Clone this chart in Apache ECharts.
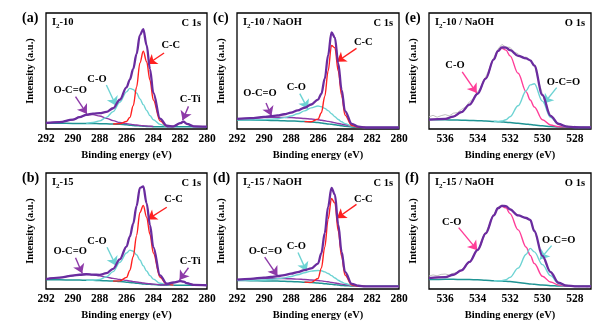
<!DOCTYPE html>
<html><head><meta charset="utf-8">
<script src="https://cdn.jsdelivr.net/npm/echarts@6/dist/echarts.min.js"></script>
<style>html,body{margin:0;padding:0;background:#fff}#c{width:604px;height:325px}</style>
</head><body><div id="c"></div>
<script>
// ---------- DATA ----------
const TICKS_C = [292, 290, 288, 286, 284, 282, 280];
const TICKS_O = [536, 534, 532, 530, 528];
const X_C = [292, 291, 290, 289.5, 289, 288.5, 288, 287.5, 287, 286.5, 286, 285.75, 285.5, 285.25, 285, 284.75, 284.5, 284.25, 284, 283.5, 283, 282.5, 282, 281.75, 281.5, 281, 280];
// (a) I2-10, C 1s
const A_BASE = [4.9, 4.9, 4.8, 4.8, 4.7, 4.7, 4.6, 4.5, 4.3, 4.0, 3.6, 3.3, 3.0, 2.8, 2.6, 2.4, 2.2, 2.1, 2.0, 2.0, 2.0, 2.0, 2.0, 2.0, 2.0, 2.0, 2.0];
const A_OCO = [5.2, 5.9, 8.0, 10.2, 12.0, 12.4, 11.2, 9.2, 7.2, 5.6, 4.6, 4.2, 3.8, 3.4, 3.1, 2.8, 2.6, 2.4, 2.2, null, null, null, null, null, null, null, null];
const A_CO = [null, null, null, null, 4.9, 5.6, 7.0, 10, 15, 23, 32, 35, 34, 31, 26, 21, 16, 11.5, 8, 4, 2.3, 2.0, null, null, null, null, null];
const A_CC = [null, null, null, null, null, null, null, null, 4.3, 4.6, 6.5, 10, 20, 36, 57, 67, 58, 42, 25, 7, 2.5, 2.0, null, null, null, null, null];
const A_CTI = [null, null, null, null, null, null, null, null, null, null, null, null, null, null, null, null, null, null, null, null, 2.0, 2.3, 5.0, 6.3, 4.5, 2.3, 2.0];
const A_ENV = [5.2, 5.9, 8.0, 10.2, 12.2, 13.3, 13.6, 14.7, 17.9, 25.2, 35.9, 42.6, 51.8, 64.8, 80.9, 86.0, 72.2, 51.7, 31.2, 9.0, 2.8, 2.3, 5.0, 6.3, 4.5, 2.3, 2.0];
// (b) I2-15, C 1s
const B_BASE = [8.0, 7.9, 7.8, 7.7, 7.6, 7.5, 7.3, 7.1, 6.8, 6.4, 5.9, 5.6, 5.3, 5.0, 4.7, 4.4, 4.2, 4.0, 3.8, 3.5, 3.3, 3.2, 3.2, 3.2, 3.2, 3.2, 3.2];
const B_OCO = [8.5, 9.8, 11.6, 12.3, 12.7, 12.3, 11.3, 10.2, 9.2, 8.3, 7.4, 6.9, 6.4, 6.0, 5.6, 5.2, 4.8, 4.5, 4.2, 3.7, null, null, null, null, null, null, null];
const B_CO = [null, null, null, null, 7.6, 7.6, 8.2, 10.5, 15, 23, 31, 33.5, 32.5, 29.5, 25, 20, 15.5, 11.5, 8.5, 5, 3.6, 3.2, null, null, null, null, null];
const B_CC = [null, null, null, null, null, null, null, null, 6.8, 7, 10, 16, 28, 46, 66, 72, 62, 47, 31, 10, 4, 3.3, null, null, null, null, null];
const B_CTI = [null, null, null, null, null, null, null, null, null, null, null, null, null, null, null, null, null, null, null, 3.5, 3.6, 5.5, 6.8, 6.4, 5.0, 3.6, 3.2];
const B_ENV = [8.5, 9.8, 11.6, 12.3, 12.7, 12.4, 12.2, 13.6, 17.4, 25.5, 36.6, 45.2, 56.3, 71.5, 87.2, 88.4, 73.9, 55.0, 36.1, 11.7, 4.6, 5.6, 6.8, 6.4, 5.0, 3.6, 3.2];
// (c) I2-10 / NaOH, C 1s
const C_BASE = [7.8, 7.7, 7.5, 7.4, 7.3, 7.1, 6.9, 6.7, 6.4, 6.0, 5.5, 5.2, 4.8, 4.4, 4.0, 3.6, 3.2, 2.8, 2.4, 1.8, 1.4, 1.3, 1.3, 1.3, 1.3, 1.3, 1.3];
const C_OCO = [8.6, 9.2, 9.8, 10.0, 10.1, 10.0, 9.8, 9.5, 9.1, 8.6, 8.0, 7.6, 7.1, 6.6, 6.0, 5.4, 4.8, 4.2, 3.6, 2.5, 1.7, 1.4, null, null, null, null, null];
const C_CO = [7.9, 7.9, 8.1, 8.5, 8.9, 9.8, 11.2, 13.2, 15.6, 18.2, 19.8, 19.2, 17.8, 15.8, 13.2, 10.6, 8.2, 6.2, 4.6, 2.6, 1.6, 1.3, null, null, null, null, null];
const C_CC = [null, null, null, null, null, null, null, null, 6.4, 6.3, 8.5, 14, 28, 50, 72, 70, 50, 29, 12, 3, 1.5, 1.3, null, null, null, null, null];
const C_ENV = [8.7, 9.4, 10.4, 11.1, 11.7, 12.7, 14.1, 16.0, 18.3, 21.1, 25.3, 30.4, 43.3, 63.6, 83.2, 78.8, 56.6, 33.8, 15.4, 4.5, 2.0, 1.3, 1.3, 1.3, 1.3, 1.3, 1.3];
// (d) I2-15 / NaOH, C 1s
const D_BASE = [7.3, 7.2, 7.0, 6.9, 6.8, 6.6, 6.4, 6.2, 5.9, 5.6, 5.2, 4.9, 4.6, 4.3, 4.0, 3.7, 3.4, 3.1, 2.9, 2.6, 2.4, 2.3, 2.3, 2.3, 2.3, 2.3, 2.3];
const D_OCO = [8.0, 8.5, 9.0, 9.1, 9.1, 9.0, 8.8, 8.5, 8.2, 7.8, 7.3, 7.0, 6.6, 6.2, 5.7, 5.2, 4.7, 4.2, 3.8, 3.0, 2.5, 2.3, null, null, null, null, null];
const D_CO = [7.4, 7.5, 7.8, 8.2, 8.8, 9.6, 10.8, 12.3, 14.0, 15.4, 16.0, 15.7, 14.8, 13.3, 11.5, 9.5, 7.6, 6.0, 4.8, 3.2, 2.6, 2.3, null, null, null, null, null];
const D_CC = [null, null, null, null, null, null, null, null, 5.9, 5.7, 9, 18, 36, 60, 78, 74, 50, 28, 12, 3.5, 2.5, 2.3, null, null, null, null, null];
const D_ENV = [8.1, 8.8, 9.8, 10.4, 11.1, 12.0, 13.2, 14.6, 16.3, 17.7, 21.9, 30.9, 48.2, 70.9, 87.2, 81.3, 55.5, 32.0, 14.8, 4.5, 2.8, 2.3, 2.3, 2.3, 2.3, 2.3, 2.3];

const X_O = [537, 536, 535.5, 535, 534.5, 534, 533.5, 533, 532.75, 532.5, 532.25, 532, 531.5, 531, 530.75, 530.5, 530, 529.5, 529, 528.5, 528, 527];
// (e) I2-10 / NaOH, O 1s
const E_BASE = [8.1, 7.9, 7.8, 7.6, 7.4, 7.2, 6.9, 6.5, 6.3, 6.1, 5.8, 5.5, 4.9, 4.2, 3.8, 3.4, 2.7, 2.1, 1.7, 1.5, 1.4, 1.4];
const E_CO = [8.1, 8.7, 10.7, 14.5, 21, 30.4, 43.5, 60, 67, 69.5, 68, 63, 48, 32, 25, 19, 8, 3.5, 2, 1.6, 1.4, 1.4];
const E_OCO = [null, null, null, null, null, null, null, 6.5, 6.5, 6.9, 8, 10.5, 20, 33, 38, 39, 24, 10, 4, 2, 1.5, 1.4];
const E_ENV = [8.1, 8.7, 10.7, 14.5, 21, 30.4, 43.5, 60, 67.2, 70.3, 70.2, 68, 63.1, 60.8, 59.2, 54.6, 29.3, 11.4, 4.3, 2.1, 1.5, 1.4];
// (f) I2-15 / NaOH, O 1s
const F_BASE = [8.2, 8.3, 8.3, 8.2, 8.1, 7.9, 7.6, 7.2, 7.0, 6.8, 6.6, 6.4, 5.6, 4.8, 4.4, 4.0, 3.4, 2.9, 2.6, 2.4, 2.3, 2.3];
const F_CO = [9.4, 10.2, 12.3, 16, 23.4, 33.6, 48, 63.5, 69.5, 71.3, 70, 65, 51, 36, 29, 22, 11, 6, 3.5, 2.6, 2.3, 2.3];
const F_OCO = [null, null, null, null, null, null, null, 7.2, 7.1, 7.2, 8, 10, 18, 30, 35, 32, 21, 11.5, 4.5, 2.7, 2.3, 2.3];
const F_ENV = [9.4, 10.2, 12.3, 16, 23.4, 33.6, 48, 63.5, 69.6, 71.7, 71.4, 68.6, 63.4, 61.2, 59.6, 50, 28.6, 14.6, 5.4, 2.9, 2.3, 2.3];
// raw O 1s spectra
const X_RAW = [537, 536.75, 536.5, 536.25, 536, 535.75, 535.5, 535.25, 535, 534.75, 534.5, 534.25, 534, 533.75, 533.5, 533.25, 533, 532.75, 532.5, 532.25, 532, 531.75, 531.5, 531.25, 531, 530.75, 530.5, 530.25, 530, 529.75, 529.5, 529.25, 529, 528.75, 528.5, 528.25, 528, 527.75, 527.5, 527.25, 527];
const E_RAW = [10.5, 11.8, 10.2, 11.5, 12.4, 11.3, 13.6, 14.1, 16.8, 18.9, 23.5, 26.3, 31.8, 37.2, 44.9, 52.3, 61.5, 68.8, 72.9, 70.6, 70.4, 66.3, 64.9, 61.2, 62.1, 58.4, 55.6, 42.1, 30.2, 18.8, 12.3, 6.4, 5.2, 2.3, 3.1, 1.2, 2.4, 1.1, 1.9, 1.2, 1.6];
const F_RAW = [11.2, 12.1, 11.4, 12.6, 12.9, 12.2, 13.5, 14.4, 16.3, 19.8, 23.1, 28.6, 33.9, 40.2, 48.4, 56.5, 63.8, 70.6, 72.4, 71.0, 69.8, 66.1, 63.9, 62.8, 60.7, 59.1, 50.6, 39.4, 29.3, 20.4, 14.9, 8.3, 6.1, 3.2, 3.6, 2.0, 2.8, 1.9, 2.6, 1.8, 2.4];

// ---------- STYLE / LAYOUT ----------
const FONT = '"Liberation Serif", "Times New Roman", serif';
const COL = {env:'#6a2c9f', cc:'#ff2020', co:'#6dd3d3', oco:'#8d3aa8', base:'#1f9494', cti:'#7a2fa3', pink:'#ff3d98', raw:'#b8b8b8'};
const GRIDS = [
  {left:46, top:13, width:161, height:116},
  {left:46, top:173, width:161, height:116},
  {left:237, top:13, width:162, height:116},
  {left:237, top:173, width:162, height:116},
  {left:429, top:13, width:162, height:116},
  {left:429, top:173, width:162, height:116}
];
const PANELS = [
  {tag:'(a)', sample:'-10', extra:'', core:'C 1s', type:'C'},
  {tag:'(b)', sample:'-15', extra:'', core:'C 1s', type:'C'},
  {tag:'(c)', sample:'-10', extra:' / NaOH', core:'C 1s', type:'C'},
  {tag:'(d)', sample:'-15', extra:' / NaOH', core:'C 1s', type:'C'},
  {tag:'(e)', sample:'-10', extra:' / NaOH', core:'O 1s', type:'O'},
  {tag:'(f)', sample:'-15', extra:' / NaOH', core:'O 1s', type:'O'}
];
// annotations: [text, textPos, arrowStart, arrowTip, color]
const ANNOT = [
  [['C-C',[282.7,72],[283.2,65.5],[284.42,56],COL.cc],['C-O',[288.2,43],[287.5,38],[286.78,20],COL.co],['O-C=O',[290.2,33.5],[289.8,28],[288.95,13],COL.oco],['C-Ti',[281.25,25.5],[281.38,19.5],[281.82,7.5],COL.oco]],
  [['C-C',[282.5,77],[283.0,70.5],[284.42,60],COL.cc],['C-O',[288.2,41.5],[287.45,36],[286.78,20],COL.co],['O-C=O',[290.2,32.5],[289.8,27],[289.3,13.5],COL.oco],['C-Ti',[281.25,24],[281.38,18.3],[282.05,7.7],COL.oco]],
  [['C-C',[282.65,74.5],[283.15,69.5],[284.6,58],COL.cc],['C-O',[287.6,36],[287.35,30.5],[286.75,17.3],COL.co],['O-C=O',[290.3,31],[289.85,22.5],[289.45,11.5],COL.oco]],
  [['C-C',[282.65,77.5],[283.15,73],[284.6,61],COL.cc],['C-O',[287.6,36.5],[287.48,31.5],[286.85,15.2],COL.co],['O-C=O',[289.9,32.5],[289.95,27.5],[289.0,11.3],COL.oco]],
  [['C-O',[535.4,55],[534.95,49.3],[534.05,31],COL.pink],['O-C=O',[528.7,40.6],[529.12,35.7],[529.9,22],COL.co]],
  [['C-O',[535.6,57.3],[535.17,52.9],[534.02,33.5],COL.pink],['O-C=O',[529.0,42.4],[529.43,37.4],[530.15,25.5],COL.co]]
];

const zip = (xs, ys) => xs.map((x, i) => [x, ys[i]]).filter(p => p[1] != null);
const line = (g, xs, ys, color, width, z, smooth) => ({
  type:'line', xAxisIndex:g, yAxisIndex:g, data:zip(xs, ys), showSymbol:false, symbol:'none',
  smooth: smooth === false ? false : 0.35, smoothMonotone: smooth === false ? undefined : 'x',
  lineStyle:{color, width}, z, silent:true, animation:false
});

const DATA = [
  {x:X_C, base:A_BASE, comps:[[A_OCO,COL.oco],[A_CO,COL.co],[A_CC,COL.cc],[A_CTI,COL.cti]], env:A_ENV},
  {x:X_C, base:B_BASE, comps:[[B_OCO,COL.oco],[B_CO,COL.co],[B_CC,COL.cc],[B_CTI,COL.cti]], env:B_ENV},
  {x:X_C, base:C_BASE, comps:[[C_OCO,COL.oco],[C_CO,COL.co],[C_CC,COL.cc]], env:C_ENV},
  {x:X_C, base:D_BASE, comps:[[D_OCO,COL.oco],[D_CO,COL.co],[D_CC,COL.cc]], env:D_ENV},
  {x:X_O, base:E_BASE, comps:[[E_CO,COL.pink],[E_OCO,COL.co]], env:E_ENV, raw:E_RAW},
  {x:X_O, base:F_BASE, comps:[[F_CO,COL.pink],[F_OCO,COL.co]], env:F_ENV, raw:F_RAW}
];

const txt = {color:'#000', fontFamily:FONT, fontWeight:'bold'};
const grid = [], xAxis = [], yAxis = [], series = [], graphic = [];
PANELS.forEach((p, g) => {
  const G = GRIDS[g];
  grid.push(Object.assign({show:true, borderColor:'#000', borderWidth:1.3, backgroundColor:'transparent'}, G));
  const isC = p.type === 'C';
  const ticks = isC ? TICKS_C : TICKS_O;
  xAxis.push({
    gridIndex:g, type:'value', inverse:true,
    min: isC ? 280 : 527, max: isC ? 292 : 537, interval: isC ? 2 : 1,
    axisLine:{show:false}, axisTick:{show:false}, splitLine:{show:false},
    axisLabel:Object.assign({fontSize:11.5, margin:4, showMinLabel:true, showMaxLabel:true,
      formatter: v => ticks.indexOf(v) >= 0 ? String(v) : ''}, txt),
    name:'Binding energy (eV)', nameLocation:'middle', nameGap:21,
    nameTextStyle:Object.assign({fontSize:10.5}, txt)
  });
  yAxis.push({
    gridIndex:g, type:'value', min:0, max:100,
    axisLine:{show:false}, axisTick:{show:false}, axisLabel:{show:false}, splitLine:{show:false},
    name:'Intensity (a.u.)', nameLocation:'middle', nameGap:10, nameRotate:90,
    nameTextStyle:Object.assign({fontSize:10.5}, txt)
  });
  const d = DATA[g];
  if (d.raw) series.push(line(g, X_RAW, d.raw, COL.raw, 0.9, 1, false));
  series.push(line(g, d.x, d.base, COL.base, 1.5, 2));
  d.comps.forEach(c => series.push(line(g, d.x, c[0], c[1], 1.4, 3)));
  const env = line(g, d.x, d.env, COL.env, 2.3, 5);
  env.markLine = {
    silent:true, animation:false, symbol:['none','arrow'], symbolSize:9,
    label:{show:false},
    data: ANNOT[g].map(a => [{coord:a[2], lineStyle:{color:a[4], width:1.4, type:'solid'}, itemStyle:{color:a[4]}}, {coord:a[3], itemStyle:{color:a[4]}}])
  };
  env.markPoint = {
    silent:true, animation:false, symbol:'circle', symbolSize:0,
    data: ANNOT[g].map(a => ({name:a[0], coord:a[1],
      label:Object.assign({show:true, position:'inside', formatter:a[0], fontSize:10.5}, txt)}))
  };
  series.push(env);
  graphic.push({type:'text', left:G.left - 24, top:G.top - 2,
    style:Object.assign({text:p.tag, font:'bold 14px ' + FONT, fill:'#000'})});
  graphic.push({type:'text', left:G.left + 6, top:G.top + 4,
    style:{text:'{n|I}{s|2}{n|' + p.sample + p.extra + '}', fill:'#000',
      rich:{n:{fontFamily:FONT, fontWeight:'bold', fontSize:10.5, lineHeight:14},
            s:{fontFamily:FONT, fontWeight:'bold', fontSize:7, lineHeight:9, verticalAlign:'bottom'}}}});
  graphic.push({type:'text', right:604 - (G.left + G.width) + 6, top:G.top + 5,
    style:{text:p.core, font:'bold 10.5px ' + FONT, fill:'#000'}});
});

const chart = echarts.init(document.getElementById('c'), null, {renderer:'canvas'});
chart.setOption({animation:false, backgroundColor:'#fff', grid, xAxis, yAxis, series, graphic});
</script></body></html>
